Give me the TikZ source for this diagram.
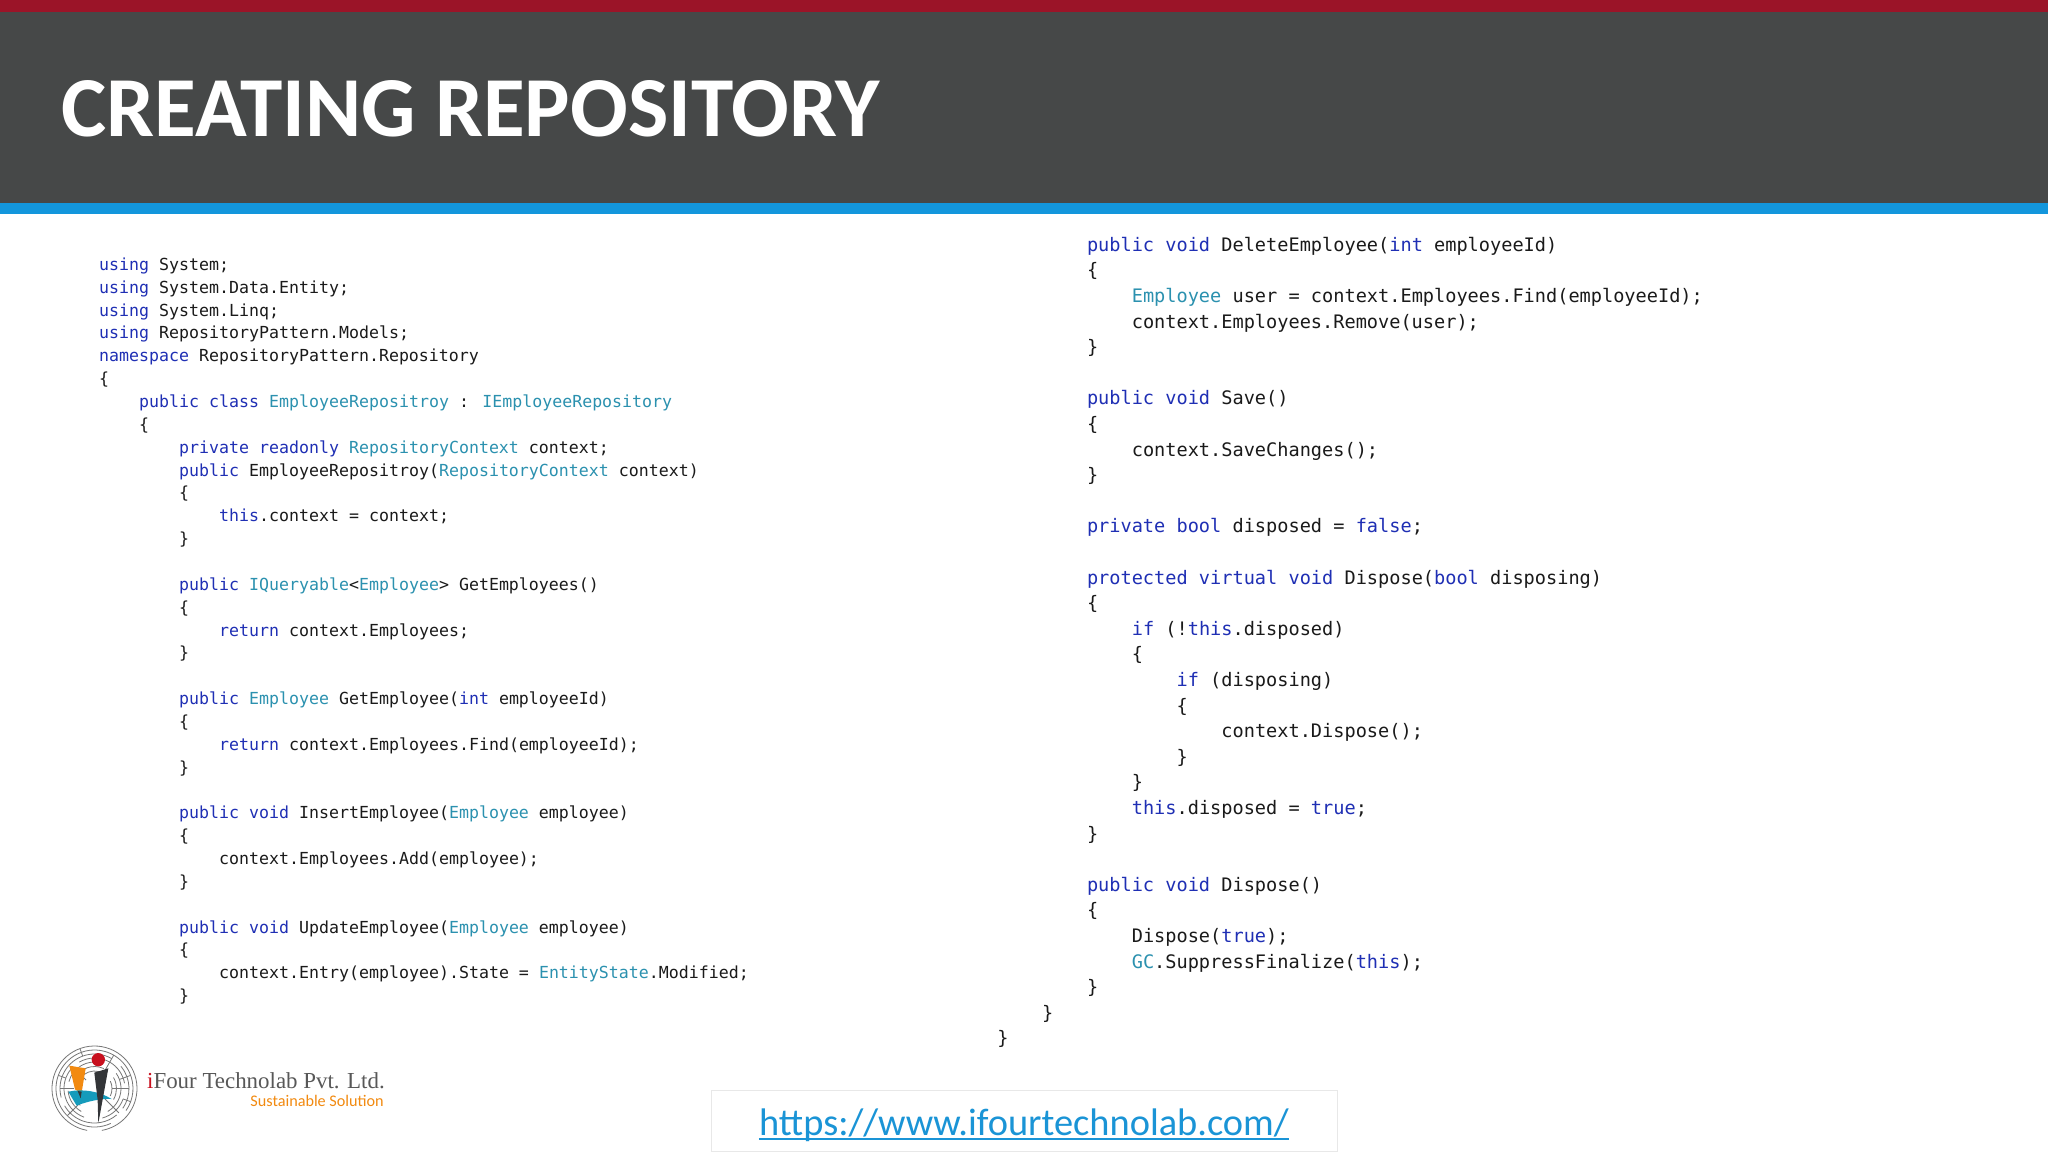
\documentclass[tikz,border=0pt]{standalone}
\usepackage{fontspec}
\setmainfont{Carlito}
\newfontfamily\codefont{DejaVu Sans Mono}
\newfontfamily\logofont{Liberation Serif}
\definecolor{topred}{HTML}{9B1428}
\definecolor{headgray}{HTML}{464848}
\definecolor{stripeblue}{HTML}{1396DC}
\definecolor{kwblue}{HTML}{1F2FB4}
\definecolor{typeteal}{HTML}{2B91AF}
\definecolor{codeink}{HTML}{1A1A1A}
\definecolor{linkblue}{HTML}{1A94D6}
\definecolor{boxgray}{HTML}{E8E8E8}
\definecolor{mazegray}{HTML}{777777}
\definecolor{logoorange}{HTML}{F28A10}
\definecolor{logoteal}{HTML}{159BBB}
\definecolor{logodark}{HTML}{333538}
\definecolor{logored}{HTML}{C8101E}
\definecolor{logotext}{HTML}{585858}
\newcommand{\kw}[1]{\textcolor{kwblue}{#1}}
\newcommand{\ty}[1]{\textcolor{typeteal}{#1}}
\tikzset{
  codeleft/.style={anchor=base west,inner sep=0pt,text=codeink,font=\fontsize{16.6}{20}\codefont},
  coderight/.style={anchor=base west,inner sep=0pt,text=codeink,font=\fontsize{18.6}{22}\codefont},
  maze/.style={draw=mazegray,line width=0.8pt},
}
\begin{document}
\begin{tikzpicture}[x=1pt,y=-1pt]
      \useasboundingbox (0,0) rectangle (2048,1152);
      \fill[white] (0,0) rectangle (2048,1152);
      \fill[topred] (0,0) rectangle (2048,12);
      \fill[headgray] (0,12) rectangle (2048,203);
      \fill[stripeblue] (0,203) rectangle (2048,214);
      \node[anchor=base west,inner sep=0pt,text=white,font=\fontsize{85.4}{90}\selectfont\bfseries] (title) at (61,136) {CREATING REPOSITORY};
      \begin{scope}[shift={(99,270.4)},x=10pt,y=-22.85pt]
        \draw[draw=none]
          (0,0) node[codeleft] (l0){\kw{using} System;}
          (0,1) node[codeleft] (l1){\kw{using} System.Data.Entity;}
          (0,2) node[codeleft] (l2){\kw{using} System.Linq;}
          (0,3) node[codeleft] (l3){\kw{using} RepositoryPattern.Models;}
          (0,4) node[codeleft] (l4){\kw{namespace} RepositoryPattern.Repository}
          (0,5) node[codeleft] (l5){\{}
          (4,6) node[codeleft] (l6){\kw{public} \kw{class} \ty{EmployeeRepositroy} : \ty{IEmployeeRepository}}
          (4,7) node[codeleft] (l7){\{}
          (8,8) node[codeleft] (l8){\kw{private} \kw{readonly} \ty{RepositoryContext} context;}
          (8,9) node[codeleft] (l9){\kw{public} EmployeeRepositroy(\ty{RepositoryContext} context)}
          (8,10) node[codeleft] (l10){\{}
          (12,11) node[codeleft] (l11){\kw{this}.context = context;}
          (8,12) node[codeleft] (l12){\}}
          (8,14) node[codeleft] (l14){\kw{public} \ty{IQueryable}<\ty{Employee}> GetEmployees()}
          (8,15) node[codeleft] (l15){\{}
          (12,16) node[codeleft] (l16){\kw{return} context.Employees;}
          (8,17) node[codeleft] (l17){\}}
          (8,19) node[codeleft] (l19){\kw{public} \ty{Employee} GetEmployee(\kw{int} employeeId)}
          (8,20) node[codeleft] (l20){\{}
          (12,21) node[codeleft] (l21){\kw{return} context.Employees.Find(employeeId);}
          (8,22) node[codeleft] (l22){\}}
          (8,24) node[codeleft] (l24){\kw{public} \kw{void} InsertEmployee(\ty{Employee} employee)}
          (8,25) node[codeleft] (l25){\{}
          (12,26) node[codeleft] (l26){context.Employees.Add(employee);}
          (8,27) node[codeleft] (l27){\}}
          (8,29) node[codeleft] (l29){\kw{public} \kw{void} UpdateEmployee(\ty{Employee} employee)}
          (8,30) node[codeleft] (l30){\{}
          (12,31) node[codeleft] (l31){context.Entry(employee).State = \ty{EntityState}.Modified;}
          (8,32) node[codeleft] (l32){\}};
      \end{scope}
      \begin{scope}[shift={(1086.8,251.2)},x=11.2pt,y=-25.6pt]
        \draw[draw=none]
          (0,0) node[coderight] (r0){\kw{public} \kw{void} DeleteEmployee(\kw{int} employeeId)}
          (0,1) node[coderight] (r1){\{}
          (4,2) node[coderight] (r2){\ty{Employee} user = context.Employees.Find(employeeId);}
          (4,3) node[coderight] (r3){context.Employees.Remove(user);}
          (0,4) node[coderight] (r4){\}}
          (0,6) node[coderight] (r6){\kw{public} \kw{void} Save()}
          (0,7) node[coderight] (r7){\{}
          (4,8) node[coderight] (r8){context.SaveChanges();}
          (0,9) node[coderight] (r9){\}}
          (0,11) node[coderight] (r11){\kw{private} \kw{bool} disposed = \kw{false};}
          (0,13) node[coderight] (r13){\kw{protected} \kw{virtual} \kw{void} Dispose(\kw{bool} disposing)}
          (0,14) node[coderight] (r14){\{}
          (4,15) node[coderight] (r15){\kw{if} (!\kw{this}.disposed)}
          (4,16) node[coderight] (r16){\{}
          (8,17) node[coderight] (r17){\kw{if} (disposing)}
          (8,18) node[coderight] (r18){\{}
          (12,19) node[coderight] (r19){context.Dispose();}
          (8,20) node[coderight] (r20){\}}
          (4,21) node[coderight] (r21){\}}
          (4,22) node[coderight] (r22){\kw{this}.disposed = \kw{true};}
          (0,23) node[coderight] (r23){\}}
          (0,25) node[coderight] (r25){\kw{public} \kw{void} Dispose()}
          (0,26) node[coderight] (r26){\{}
          (4,27) node[coderight] (r27){Dispose(\kw{true});}
          (4,28) node[coderight] (r28){\ty{GC}.SuppressFinalize(\kw{this});}
          (0,29) node[coderight] (r29){\}}
          (-4,30) node[coderight] (r30){\}}
          (-8,31) node[coderight] (r31){\}};
      \end{scope}
      % logo
      \begin{scope}[shift={(94.5,1088.5)}]
        \draw[maze] (100:42.5) arc[start angle=100,end angle=440,radius=42.5];
        \draw[maze] (65:38.5) arc[start angle=65,end angle=395,radius=38.5];
        \draw[maze] (50:34.5) arc[start angle=50,end angle=150,radius=34.5];
        \draw[maze] (165:34.5) arc[start angle=165,end angle=300,radius=34.5];
        \draw[maze] (-40:34.5) arc[start angle=-40,end angle=35,radius=34.5];
        \draw[maze] (20:30.5) arc[start angle=20,end angle=75,radius=30.5];
        \draw[maze] (110:30.5) arc[start angle=110,end angle=220,radius=30.5];
        \draw[maze] (240:30.5) arc[start angle=240,end angle=350,radius=30.5];
        \draw[maze] (-35:26.5) arc[start angle=-35,end angle=60,radius=26.5];
        \draw[maze] (195:26.5) arc[start angle=195,end angle=285,radius=26.5];
        \draw[maze] (120:26.5) arc[start angle=120,end angle=175,radius=26.5];
        \draw[maze] (-30:22) arc[start angle=-30,end angle=30,radius=22];
        \draw[maze] (205:22) arc[start angle=205,end angle=295,radius=22];
        \draw[maze] (130:22) arc[start angle=130,end angle=170,radius=22];
        \draw[maze] (-25:17.5) arc[start angle=-25,end angle=25,radius=17.5];
        \draw[maze] (215:17.5) arc[start angle=215,end angle=285,radius=17.5];
        \draw[maze] (0:17.5) -- (0:34.5);
        \draw[maze] (180:21) -- (180:34.5);
        \draw[maze] (225:12) -- (225:30.5);
        \draw[maze] (300:17) -- (300:38.5);
        \draw[maze] (45:15) -- (45:34.5);
        \draw[maze] (135:15) -- (135:38.5);
        \draw[maze] (250:34.5) -- (250:42.5);
        \draw[maze] (340:26.5) -- (340:38.5);
        \draw[maze] (20:30.5) -- (20:38.5);
        \draw[maze] (200:30.5) -- (200:38.5);
      \end{scope}
      \begin{scope}[shift={(40,1035)},x=0.3333pt,y=-0.3333pt]
        \fill[logoorange] (88,92) -- (137,100) -- (122,190) -- (113,168) -- (105,163) -- cycle;
        \fill[logoteal] (85,170) .. controls (130,160) and (180,170) .. (215,192) .. controls (180,190) and (140,200) .. (110,212) -- cycle;
        \fill[logodark] (113,168) -- (125,170) -- (122,190) -- cycle;
        \fill[logodark] (163,113) -- (205,100) -- (175,265) -- (173,195) -- cycle;
        \fill[logored] (175,74) circle[radius=20];
      \end{scope}
      \node[anchor=base west,inner sep=0pt,text=logotext,font=\fontsize{22.9}{26}\logofont] (company) at (147,1088) {\textcolor{logored}{i}Four Technolab Pvt. Ltd.};
      \node[anchor=base east,inner sep=0pt,text=logoorange,font=\fontsize{16.2}{20}\selectfont] (slogan) at (384,1106) {Sustainable Solution};
      % link box
      \draw[boxgray,line width=1pt] (711.5,1090.5) rectangle (1337.5,1151.5);
      \node[anchor=base,inner sep=0pt,text=linkblue,font=\fontsize{38.4}{46}\selectfont] (link) at (1024,1135) {https://www.ifourtechnolab.com/};
      \draw[linkblue,line width=2.2pt] ([yshift=-4pt]link.base west) -- ([yshift=-4pt]link.base east);
    \end{tikzpicture}
\end{document}
